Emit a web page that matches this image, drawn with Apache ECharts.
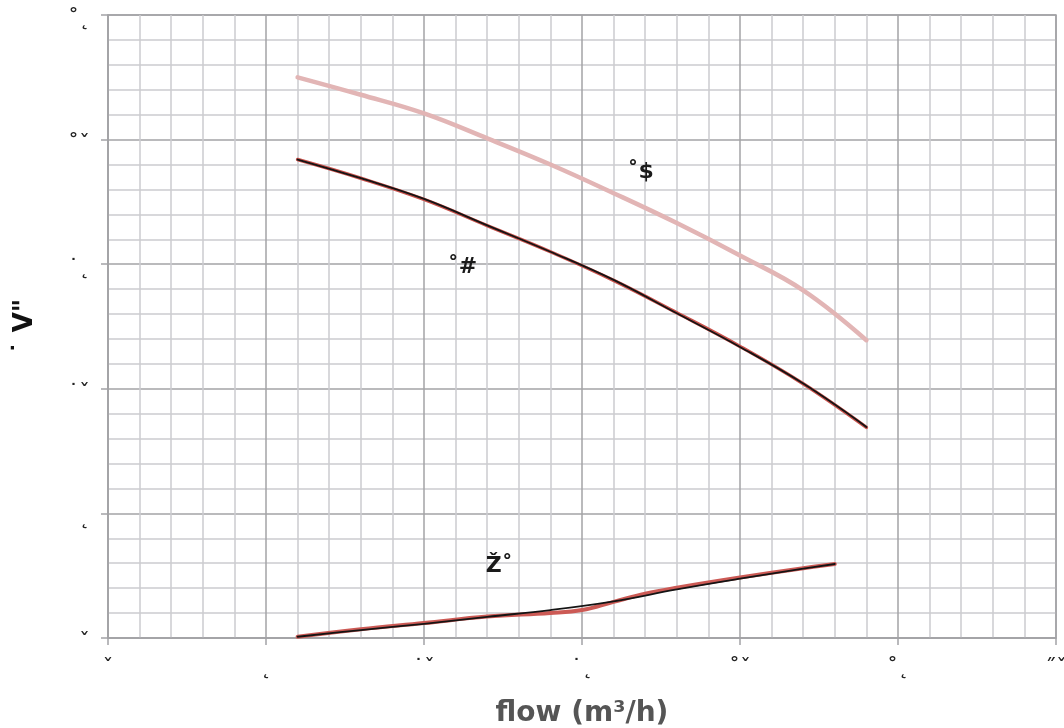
<!DOCTYPE html>
<html>
<head>
<meta charset="utf-8">
<script src="https://cdn.jsdelivr.net/npm/echarts@6/dist/echarts.min.js"></script>
<style>html,body{margin:0;padding:0;background:#fff}#c{width:1064px;height:728px}</style>
</head>
<body>
<div id="c"></div>
<script>
// ---- data (flow in m3/h, value on y axis) ----
const xTickLabels = {0:'ˇ',5:'˛',10:'˙ˇ',15:'˙˛',20:'˚ˇ',25:'˚˛',30:'˝ˇ'};
const yTickLabels = {0:'ˇ',5:'˛',10:'˙ˇ',15:'˙˛',20:'˚ˇ',25:'˚˛'};
const xTitle = 'flow (m³/h)';
const yTitle = '˙ V"';

const upperPink = [[6,22.5],[8,21.8],[10,21.05],[12,20.05],[14,19.0],[16,17.85],[18,16.65],[20,15.35],[22,13.95],[24,11.95]];
const middleRed = [[6,19.2],[8,18.45],[10,17.6],[12,16.55],[14,15.5],[16,14.35],[18,13.05],[20,11.7],[22,10.2],[24,8.45]];
const middleBlack = [[6,19.2],[8,18.45],[10,17.62],[12,16.56],[14,15.5],[16,14.37],[18,13.03],[20,11.68],[22,10.21],[24,8.47]];
const lowerRed = [[6,0.05],[8,0.35],[10,0.6],[12,0.86],[14,1.0],[15,1.12],[16,1.45],[17,1.78],[18,2.02],[20,2.43],[22,2.8],[23,2.97]];
const lowerBlack = [[6,0.05],[8,0.32],[10,0.57],[12,0.85],[14,1.12],[16,1.47],[18,1.95],[20,2.38],[22,2.78],[23,2.97]];

const curveLabels = [
  {text:'˚$', at:[16.87,18.65]},
  {text:'˚#', at:[11.23,14.85]},
  {text:'Ž˚', at:[12.4,2.85]}
];

const chart = echarts.init(document.getElementById('c'), null, {renderer:'canvas'});
const minorColor = '#cbcbcf';
const majorColor = '#a3a3a6';

function lineSeries(data, color, width, z){
  return {type:'line', data:data, smooth:0.4, symbol:'none', z:z,
    lineStyle:{color:color, width:width, cap:'round', join:'round'}, silent:true};
}

const labelSeries = {
  type:'scatter', symbolSize:1, z:10, silent:true,
  itemStyle:{opacity:0},
  data: curveLabels.map(l => ({value:l.at, name:l.text})),
  label:{show:true, position:[0,0], align:'center', verticalAlign:'middle',
    formatter:p=>p.name, color:'#1a1a1a', opacity:1,
    fontFamily:'DejaVu Sans', fontWeight:'bold', fontSize:22}
};

chart.setOption({
  animation:false,
  backgroundColor:'#ffffff',
  grid:{left:108, right:8, top:15, bottom:90, containLabel:false, outerBoundsMode:'none',
    show:true, borderColor:majorColor, borderWidth:1.5},
  xAxis:{
    type:'value', min:0, max:30, interval:5,
    axisLine:{show:true, onZero:false, lineStyle:{color:majorColor, width:1.5}},
    axisTick:{show:true, length:7, lineStyle:{color:majorColor, width:1.5}},
    minorTick:{show:false, splitNumber:5},
    splitLine:{show:true, lineStyle:{color:majorColor, width:1.5}},
    minorSplitLine:{show:true, lineStyle:{color:minorColor, width:1.5}},
    axisLabel:{formatter:v=>xTickLabels[v]!==undefined?xTickLabels[v]:'', color:'#222', fontSize:22, fontFamily:'DejaVu Sans', margin:19},
    name:xTitle, nameLocation:'middle', nameGap:62,
    nameTextStyle:{color:'#555', fontSize:28, fontWeight:'bold', fontFamily:'DejaVu Sans'}
  },
  yAxis:{
    type:'value', min:0, max:25, interval:5,
    axisLine:{show:true, onZero:false, lineStyle:{color:majorColor, width:1.5}},
    axisTick:{show:true, length:7, lineStyle:{color:majorColor, width:1.5}},
    minorTick:{show:false, splitNumber:5},
    splitLine:{show:true, lineStyle:{color:majorColor, width:1.5}},
    minorSplitLine:{show:true, lineStyle:{color:minorColor, width:1.5}},
    axisLabel:{formatter:v=>yTickLabels[v]!==undefined?'{t|'+yTickLabels[v]+'}':'', color:'#222', fontSize:22, fontFamily:'DejaVu Sans', margin:18,
      rich:{t:{fontSize:22, fontFamily:'DejaVu Sans', color:'#222', padding:[9,0,0,0]}}},
    name:yTitle, nameLocation:'middle', nameGap:70, nameRotate:90,
    nameTextStyle:{color:'#111', fontSize:26, fontWeight:'bold', fontFamily:'DejaVu Sans'}
  },
  series:[
    lineSeries(upperPink, '#e2b5b5', 4.5, 2),
    lineSeries(middleRed, '#c9524c', 3.5, 3),
    lineSeries(middleBlack, '#141414', 1.8, 4),
    lineSeries(lowerRed, '#cc5a55', 4, 3),
    lineSeries(lowerBlack, '#141414', 1.8, 4),
    labelSeries
  ]
});
</script>
</body>
</html>
